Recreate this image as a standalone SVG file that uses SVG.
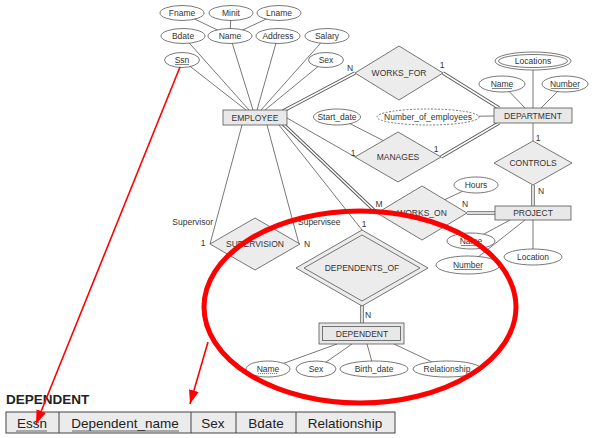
<svg xmlns="http://www.w3.org/2000/svg" width="594" height="438" viewBox="0 0 594 438">
<defs>
<marker id="ah" markerUnits="userSpaceOnUse" markerWidth="16" markerHeight="12" refX="14" refY="5" orient="auto">
<path d="M0,0 L14,5 L0,10 Z" fill="#ff0000"/>
</marker>
</defs>
<style>
text{font-family:"Liberation Sans",Arial,sans-serif;font-size:8.5px;fill:#333;}
.m{text-anchor:middle;}
.ln{stroke:#555;stroke-width:0.8;fill:none;}
.dbo{stroke:#555;stroke-width:3.4;fill:none;}
.dbi{stroke:#fff;stroke-width:1.6;fill:none;}
.at{fill:#fff;stroke:#555;stroke-width:0.8;}
.dsh{fill:#fff;stroke:#555;stroke-width:0.8;stroke-dasharray:2,1.5;}
.ent{fill:#e8e8e8;stroke:#555;stroke-width:0.8;}
.rel{fill:#ececec;stroke:#555;stroke-width:0.8;}
.ul{stroke:#333;stroke-width:0.6;}
.uld{stroke:#333;stroke-width:0.6;stroke-dasharray:1.2,0.8;}
.red{stroke:#ff0000;fill:none;}
.cell{fill:#ebebeb;stroke:#444;stroke-width:1;}
.tt{font-size:13.5px;fill:#222;}
</style>

<g id="connectors">
<line class="ln" x1="230" y1="36" x2="182" y2="13"/>
<line class="ln" x1="230" y1="36" x2="231" y2="13"/>
<line class="ln" x1="230" y1="36" x2="279" y2="13"/>
<line class="ln" x1="182" y1="60" x2="246" y2="110"/>
<line class="ln" x1="183" y1="36" x2="249" y2="110"/>
<line class="ln" x1="230" y1="36" x2="253" y2="110"/>
<line class="ln" x1="278" y1="36" x2="257" y2="110"/>
<line class="ln" x1="327" y1="36" x2="261" y2="110"/>
<line class="ln" x1="326" y1="60" x2="265" y2="110"/>
<line class="dbo" x1="283" y1="111" x2="355" y2="73"/>
<line class="dbi" x1="283" y1="111" x2="355" y2="73"/>
<line class="ln" x1="287" y1="118" x2="355" y2="157"/>
<line class="dbo" x1="283" y1="124" x2="377" y2="213"/>
<line class="dbi" x1="283" y1="124" x2="377" y2="213"/>
<line class="ln" x1="279" y1="125" x2="362" y2="230"/>
<line class="ln" x1="242" y1="125" x2="210" y2="244"/>
<line class="ln" x1="267" y1="125" x2="299" y2="244"/>
<line class="dbo" x1="443" y1="73" x2="499" y2="108"/>
<line class="dbi" x1="443" y1="73" x2="499" y2="108"/>
<line class="dbo" x1="441" y1="157" x2="499" y2="123"/>
<line class="dbi" x1="441" y1="157" x2="499" y2="123"/>
<line class="ln" x1="337" y1="117" x2="384" y2="141"/>
<line class="ln" x1="428" y1="117" x2="494" y2="116"/>
<line class="ln" x1="533" y1="61" x2="533" y2="108"/>
<line class="ln" x1="502" y1="84" x2="525" y2="108"/>
<line class="ln" x1="565" y1="84" x2="541" y2="108"/>
<line class="ln" x1="533" y1="123" x2="533" y2="141"/>
<line class="dbo" x1="533" y1="185" x2="533" y2="206"/>
<line class="dbi" x1="533" y1="185" x2="533" y2="206"/>
<line class="dbo" x1="467" y1="213" x2="495" y2="213"/>
<line class="dbi" x1="467" y1="213" x2="495" y2="213"/>
<line class="ln" x1="476" y1="185" x2="444" y2="200"/>
<line class="ln" x1="471" y1="241" x2="510" y2="220"/>
<line class="ln" x1="468" y1="265" x2="525" y2="220"/>
<line class="ln" x1="533" y1="220" x2="533" y2="257"/>
<line class="dbo" x1="362" y1="304" x2="362" y2="323"/>
<line class="dbi" x1="362" y1="304" x2="362" y2="323"/>
<line class="ln" x1="337" y1="344" x2="268" y2="369"/>
<line class="ln" x1="352" y1="344" x2="316" y2="369"/>
<line class="ln" x1="367" y1="344" x2="374" y2="369"/>
<line class="ln" x1="394" y1="344" x2="447" y2="369"/>
</g>

<g id="attr-fname"><ellipse class="at" cx="182" cy="13" rx="22" ry="7.5"/><text class="m" x="182" y="16">Fname</text></g>
<g id="attr-minit"><ellipse class="at" cx="231" cy="13" rx="22" ry="7.5"/><text class="m" x="231" y="16">Minit</text></g>
<g id="attr-lname"><ellipse class="at" cx="279" cy="13" rx="22" ry="7.5"/><text class="m" x="279" y="16">Lname</text></g>
<g id="attr-bdate"><ellipse class="at" cx="183" cy="36" rx="22" ry="7.5"/><text class="m" x="183" y="39">Bdate</text></g>
<g id="attr-name"><ellipse class="at" cx="230" cy="36" rx="22" ry="7.5"/><text class="m" x="230" y="39">Name</text></g>
<g id="attr-address"><ellipse class="at" cx="278" cy="36" rx="22" ry="7.5"/><text class="m" x="278" y="39">Address</text></g>
<g id="attr-salary"><ellipse class="at" cx="327" cy="36" rx="22" ry="7.5"/><text class="m" x="327" y="39">Salary</text></g>
<g id="attr-ssn"><ellipse class="at" cx="182" cy="60" rx="17.5" ry="7.5"/><text class="m" x="182" y="63">Ssn</text><line class="ul" x1="175" y1="64.5" x2="189" y2="64.5"/></g>
<g id="attr-sex"><ellipse class="at" cx="326" cy="60" rx="17.5" ry="7.5"/><text class="m" x="326" y="63">Sex</text></g>

<g id="employee"><rect class="ent" x="223" y="110" width="64" height="15"/><text class="m" x="255" y="120.5">EMPLOYEE</text></g>

<g id="works_for"><polygon class="rel" points="355,73 399,46 443,73 399,100"/><text class="m" x="399" y="76">WORKS_FOR</text></g>

<g id="department"><rect class="ent" x="494" y="108" width="78" height="15"/><text class="m" x="533" y="118.5">DEPARTMENT</text></g>
<g id="attr-locations"><ellipse class="at" cx="533" cy="61" rx="38" ry="9"/><ellipse class="at" cx="533" cy="61" rx="34.5" ry="6.5"/><text class="m" x="533" y="64">Locations</text></g>
<g id="attr-dname"><ellipse class="at" cx="502" cy="84" rx="23" ry="8"/><text class="m" x="502" y="87">Name</text><line class="ul" x1="492" y1="88.5" x2="512" y2="88.5"/></g>
<g id="attr-dnumber"><ellipse class="at" cx="565" cy="84" rx="23" ry="8"/><text class="m" x="565" y="87">Number</text><line class="ul" x1="551" y1="88.5" x2="579" y2="88.5"/></g>
<g id="attr-numemp"><ellipse class="dsh" cx="428" cy="117" rx="51" ry="8"/><text class="m" x="428" y="120">Number_of_employees</text></g>
<g id="attr-startdate"><ellipse class="at" cx="337" cy="117" rx="23.5" ry="8"/><text class="m" x="337" y="120">Start_date</text></g>

<g id="manages"><polygon class="rel" points="355,157 398,132 441,157 398,182"/><text class="m" x="398" y="160">MANAGES</text></g>
<g id="controls"><polygon class="rel" points="494,163 533,141 572,163 533,185"/><text class="m" x="533" y="166">CONTROLS</text></g>
<g id="project"><rect class="ent" x="495" y="206" width="76" height="14"/><text class="m" x="533" y="216">PROJECT</text></g>
<g id="attr-hours"><ellipse class="at" cx="476" cy="185" rx="22" ry="8"/><text class="m" x="476" y="188">Hours</text></g>
<g id="works_on"><polygon class="rel" points="377,213 422,186 467,213 422,240"/><text class="m" x="422" y="216">WORKS_ON</text></g>
<g id="attr-pname"><ellipse class="at" cx="471" cy="241" rx="24" ry="8"/><text class="m" x="471" y="244">Name</text><line class="ul" x1="461" y1="245.5" x2="481" y2="245.5"/></g>
<g id="attr-pnumber"><ellipse class="at" cx="468" cy="265" rx="32" ry="9"/><text class="m" x="468" y="268">Number</text><line class="ul" x1="454" y1="269.5" x2="482" y2="269.5"/></g>
<g id="attr-location"><ellipse class="at" cx="533" cy="257" rx="29" ry="8"/><text class="m" x="533" y="260">Location</text></g>

<g id="supervision"><polygon class="rel" points="210,244 255,218 300,244 255,270"/><text class="m" x="255" y="247">SUPERVISION</text></g>

<g id="dependents_of"><polygon class="rel" points="296,268 362,230 428,268 362,306"/><polygon fill="none" stroke="#555" stroke-width="0.8" points="304,268 362,235 420,268 362,301"/><text class="m" x="362" y="271">DEPENDENTS_OF</text></g>

<g id="dependent"><rect class="ent" x="319" y="323" width="85" height="21"/><rect fill="none" stroke="#555" stroke-width="0.8" x="322.5" y="326.5" width="78" height="14"/><text class="m" x="362" y="336.5">DEPENDENT</text></g>
<g id="attr-depname"><ellipse class="at" cx="268" cy="369" rx="22" ry="8"/><text class="m" x="268" y="372">Name</text><line class="uld" x1="258" y1="373.5" x2="278" y2="373.5"/></g>
<g id="attr-depsex"><ellipse class="at" cx="316" cy="369" rx="20" ry="8"/><text class="m" x="316" y="372">Sex</text></g>
<g id="attr-birthdate"><ellipse class="at" cx="374" cy="369" rx="34" ry="8"/><text class="m" x="374" y="372">Birth_date</text></g>
<g id="attr-relationship"><ellipse class="at" cx="447" cy="369" rx="34" ry="8"/><text class="m" x="447" y="372">Relationship</text></g>

<g id="labels">
<text class="m" x="350" y="71">N</text>
<text class="m" x="442" y="68">1</text>
<text class="m" x="353" y="156">1</text>
<text class="m" x="436" y="152">1</text>
<text class="m" x="538" y="141">1</text>
<text class="m" x="541" y="194">N</text>
<text class="m" x="379" y="207">M</text>
<text class="m" x="465" y="207">N</text>
<text x="213" y="225" text-anchor="end">Supervisor</text>
<text class="m" x="203" y="246">1</text>
<text x="298" y="225">Supervisee</text>
<text class="m" x="307" y="247">N</text>
<text class="m" x="364" y="227">1</text>
<text class="m" x="368" y="318">N</text>
</g>

<g id="table">
<text x="6" y="404" style="font-size:13.5px;font-weight:bold;fill:#222;">DEPENDENT</text>
<rect class="cell" x="6" y="412" width="389" height="21"/>
<line stroke="#444" x1="59" y1="412" x2="59" y2="433"/>
<line stroke="#444" x1="191" y1="412" x2="191" y2="433"/>
<line stroke="#444" x1="236" y1="412" x2="236" y2="433"/>
<line stroke="#444" x1="296" y1="412" x2="296" y2="433"/>
<text class="m tt" x="32" y="428">Essn</text>
<line stroke="#444" stroke-width="0.8" x1="16" y1="431" x2="47" y2="431"/>
<text class="m tt" x="125" y="428">Dependent_name</text>
<line stroke="#444" stroke-width="0.8" x1="72" y1="431" x2="179" y2="431"/>
<text class="m tt" x="213" y="428">Sex</text>
<text class="m tt" x="266" y="428">Bdate</text>
<text class="m tt" x="345" y="428">Relationship</text>
</g>

<g id="annotations">
<ellipse class="red" cx="360" cy="307" rx="156" ry="96" stroke-width="5"/>
<line class="red" stroke-width="1.6" x1="180" y1="67" x2="36" y2="424" marker-end="url(#ah)"/>
<line class="red" stroke-width="1.6" x1="208" y1="342" x2="190" y2="404" marker-end="url(#ah)"/>
</g>
</svg>
